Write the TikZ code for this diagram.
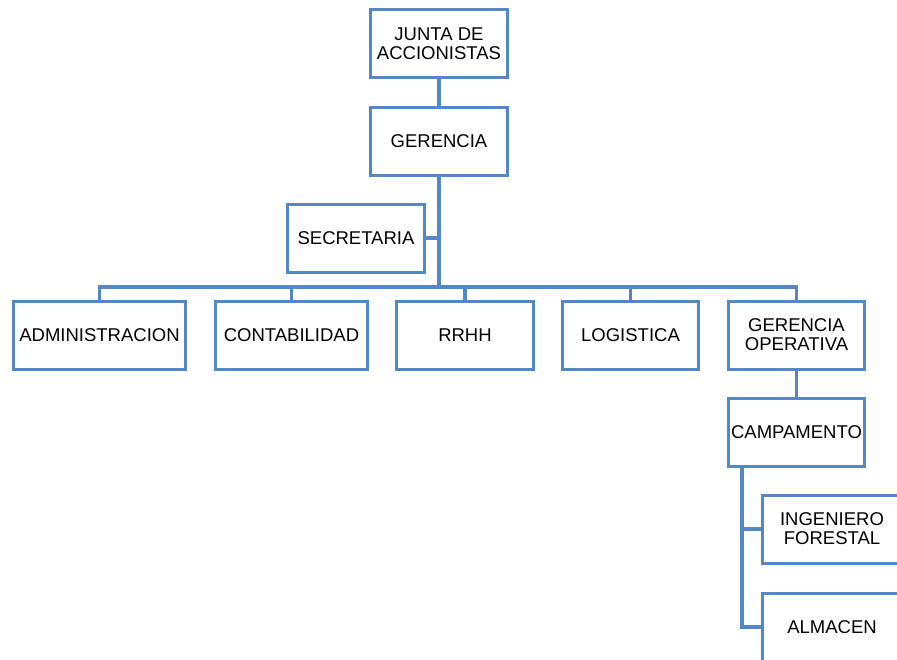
\documentclass[tikz,border=0pt]{standalone}
\usepackage{fontspec}
\setmainfont{Liberation Sans}
\definecolor{lineblue}{RGB}{84,136,196}
\begin{document}
\begin{tikzpicture}[x=1pt,y=1pt,
  box/.style={draw=lineblue, line width=3pt, fill=white, rectangle, align=center,
    inner sep=0pt, minimum height=68pt, font=\fontsize{18.5}{18.8}\selectfont},
  conn/.style={draw=lineblue, line width=3.2pt}]
\useasboundingbox (0,0) rectangle (897,-659);
\node[box, minimum width=137pt] (junta) at (439,-43.5) {JUNTA DE\\ACCIONISTAS};
\node[box, minimum width=137pt] (ger) at (439,-141) {GERENCIA};
\node[box, minimum width=137pt] (sec) at (356,-238) {SECRETARIA};
\node[box, minimum width=172pt] (adm) at (99.5,-335) {ADMINISTRACION};
\node[box, minimum width=152pt] (cont) at (291.5,-335) {CONTABILIDAD};
\node[box, minimum width=137pt] (rrhh) at (465,-335) {RRHH};
\node[box, minimum width=136pt] (log) at (630.5,-335) {LOGISTICA};
\node[box, minimum width=136pt] (gop) at (796.5,-335) {GERENCIA\\OPERATIVA};
\node[box, minimum width=136pt] (camp) at (796.5,-432.5) {CAMPAMENTO};
\node[box, minimum width=140pt] (ing) at (832,-529) {INGENIERO\\FORESTAL};
\node[box, minimum width=140pt] (alm) at (832,-627) {ALMACEN};
\coordinate (busy) at (439,-287);
\coordinate (cv) at (742,-467);
\draw[conn] (junta.south) -- (ger.north);
\draw[conn] (ger.south) -- (busy);
\draw[conn] (sec.east) -- (sec.east -| ger.south);
\draw[conn] (adm.north) |- (busy) -| (gop.north);
\draw[conn] (cont.north) -- (cont.north |- busy);
\draw[conn] (rrhh.north) -- (rrhh.north |- busy);
\draw[conn] (log.north) -- (log.north |- busy);
\draw[conn] (gop.south) -- (camp.north);
\draw[conn] (cv) |- (alm.west);
\draw[conn] (cv |- ing.west) -- (ing.west);
\end{tikzpicture}
\end{document}
